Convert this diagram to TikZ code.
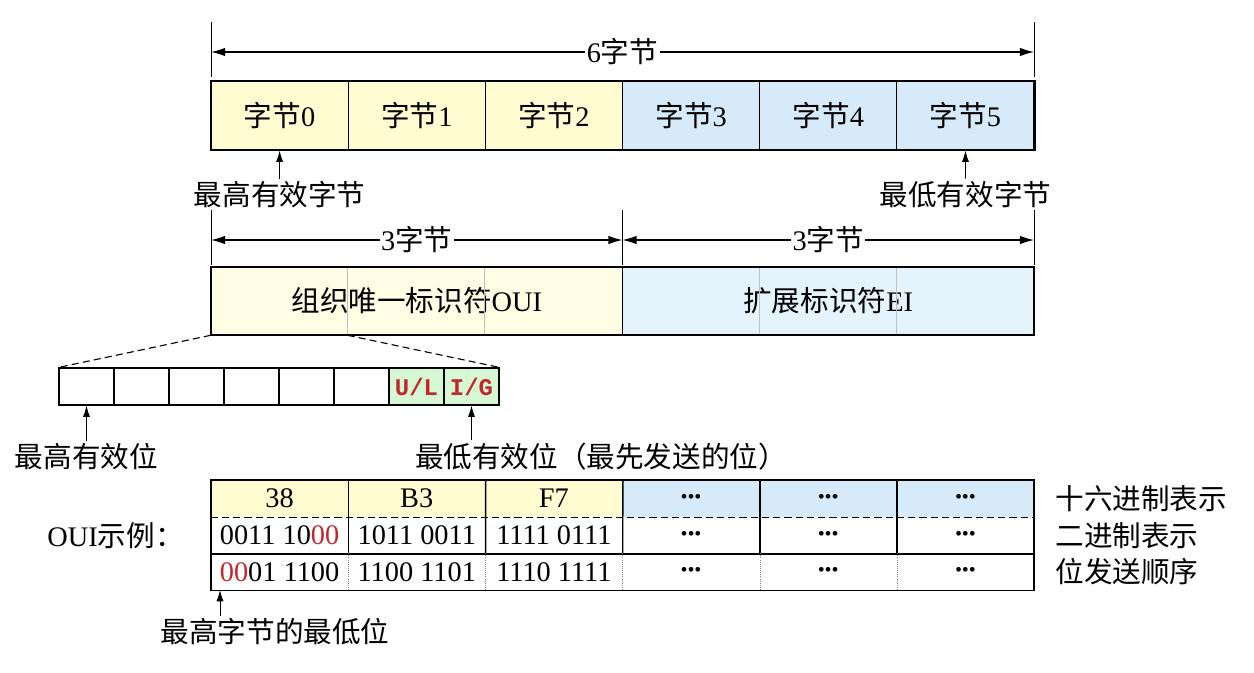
\documentclass[tikz,border=0pt]{standalone}
\usepackage{fontspec}
\setmainfont{Liberation Serif}[Scale=1.12]
\setmonofont{Liberation Mono}
\newfontfamily\zhfont{Noto Sans CJK SC}[Scale=1.13]
\usetikzlibrary{positioning,arrows.meta}
\newcommand{\zh}[1]{{\zhfont #1}}
\newcommand{\pxu}{0.025cm}
\definecolor{bytey}{HTML}{FFFCD2}
\definecolor{byteb}{HTML}{D6EAFA}
\definecolor{ouiy}{HTML}{FFFDE3}
\definecolor{eib}{HTML}{E5F3FD}
\definecolor{bitg}{HTML}{D5F8D2}
\definecolor{bitred}{HTML}{C1272D}
\newcommand{\dotz}{{\fontsize{11}{11}\selectfont\textbf{\textbullet\kern0.6pt\textbullet\kern0.6pt\textbullet}}}

\begin{document}
\begin{tikzpicture}[x=\pxu, y=-\pxu,
    every node/.style={font=\fontsize{18}{22}\selectfont, inner sep=2pt},
    bytecell/.style={draw, line width=0.8pt, inner sep=0pt, minimum width={137.17*\pxu}, minimum height={69*\pxu}},
    halfcell/.style={inner sep=0pt, minimum width={411.5*\pxu}, minimum height={68*\pxu}},
    bitcell/.style={draw, line width=0.8pt, inner sep=0pt, minimum width={55*\pxu}, minimum height={37*\pxu}},
    tabcell/.style={inner sep=0pt, minimum width={137.17*\pxu}, minimum height={36.7*\pxu}},
    dim/.style={{Latex[length=10pt,width=6pt]}-{Latex[length=10pt,width=6pt]}, line width=0.8pt},
    up/.style={-{Latex[length=8pt,width=5pt]}, line width=0.6pt},
    zoomline/.style={dash pattern=on 5pt off 3pt, line width=0.8pt},
    flag/.style={text=bitred, font=\fontsize{17}{20}\selectfont\ttfamily\bfseries}]
  \useasboundingbox (0,0) rectangle (1254,672);

  % 6 bytes
  \foreach \i/\c in {0/bytey,1/bytey,2/bytey,3/byteb,4/byteb,5/byteb}
    \node[bytecell, fill=\c] (b\i) at ({279.6+137.17*\i},115.5) {\zh{字节}\i};
  \draw[line width=1.3pt] (b0.north west) rectangle (b5.south east);

  \draw[thin] (211,22) -- (211,77);
  \draw[thin] (1034,22) -- (1034,77);
  \coordinate (six0) at (211,52);
  \coordinate (six1) at (1034,52);
  \draw[dim] (six0) -- node[fill=white, inner sep=1pt] (sixlbl) {6\zh{字节}} (six1);

  \node (msbyte) at (279.6,195) {\zh{最高有效字节}};
  \node (lsbyte) at (965.5,195) {\zh{最低有效字节}};
  \draw[up] (msbyte) -- (b0);
  \draw[up] (lsbyte) -- (b5);

  % 3 + 3 bytes
  \foreach \x in {211,622.5,1034}
    \draw[thin] (\x,210) -- (\x,265);
  \coordinate (three0) at (211,240);
  \coordinate (three1) at (622.5,240);
  \coordinate (three2) at (1034,240);
  \draw[dim] (three0) -- node[fill=white, inner sep=1pt] (ouidim) {3\zh{字节}} (three1);
  \draw[dim] (three1) -- node[fill=white, inner sep=1pt] (eidim) {3\zh{字节}} (three2);

  \node[halfcell, fill=ouiy] (oui) at (416.75,301) {\zh{组织唯一标识符}OUI};
  \node[halfcell, fill=eib] (ei) at (828.25,301) {\zh{扩展标识符}EI};
  \foreach \i in {1,2,4,5}
    \draw[black!25, line width=0.8pt] (b\i.west |- oui.north) -- (b\i.west |- oui.south);
  \draw[line width=1.3pt] (oui.north west) rectangle (ei.south east);
  \draw[line width=0.8pt] (oui.north east) -- (oui.south east);

  % bits of byte 0
  \foreach \i in {0,...,7}
    \node[bitcell] (bit\i) at ({86.5+55*\i},386.5) {};
  \node[bitcell, fill=bitg, flag] (bit6) at (bit6) {U/L};
  \node[bitcell, fill=bitg, flag] (bit7) at (bit7) {I/G};
  \coordinate (oui1) at (b1.west |- oui.south);
  \draw[zoomline] (oui.south west) -- (bit0.north west);
  \draw[zoomline] (oui1) -- (bit7.north east);

  \node (msbit) at (86.5,457) {\zh{最高有效位}};
  \node[anchor=west] (lsbit) at (412,457) {\zh{最低有效位（最先发送的位）}};
  \draw[up] (msbit) -- (bit0);
  \draw[up] (bit7.south |- lsbit.north) -- (bit7.south);

  % OUI example table
  \foreach \i/\h in {0/38,1/B3,2/F7} {
    \node[tabcell, fill=bytey] (h\i) at ({279.6+137.17*\i},498.5) {\h};
  }
  \foreach \i in {3,4,5}
    \node[tabcell, fill=byteb] (h\i) at ({279.6+137.17*\i},498.5) {\dotz};
  \node[tabcell] (n0) at (279.6,535.2) {0011 10\textcolor{bitred}{00}};
  \node[tabcell] (n1) at (416.8,535.2) {1011 0011};
  \node[tabcell] (n2) at (553.9,535.2) {1111 0111};
  \node[tabcell] (o0) at (279.6,571.9) {\textcolor{bitred}{00}01 1100};
  \node[tabcell] (o1) at (416.8,571.9) {1100 1101};
  \node[tabcell] (o2) at (553.9,571.9) {1110 1111};
  \foreach \i in {3,4,5} {
    \node[tabcell] (n\i) at ({279.6+137.17*\i},535.2) {\dotz};
    \node[tabcell] (o\i) at ({279.6+137.17*\i},571.9) {\dotz};
  }
  \draw[zoomline] (h0.south west) -- (h5.south east);
  \draw[line width=1pt] (n0.south west) -- (n5.south east);
  \foreach \i in {0,...,4} {
    \draw[line width=1pt] (h\i.north east) -- (n\i.south east);
    \draw[densely dotted, black!50, line width=0.5pt] (o\i.north east) -- (o\i.south east);
  }
  \draw[line width=1.3pt] (h0.north west) rectangle (o5.south east);

  \node[right=0.45cm of h5] (hexlbl) {\zh{十六进制表示}};
  \node[right=0.45cm of n5] (binlbl) {\zh{二进制表示}};
  \node[right=0.45cm of o5] (ordlbl) {\zh{位发送顺序}};
  \node[left=0.6cm of n0] (exlbl) {OUI\zh{示例：}};

  \node (lowlbl) at (275,632) {\zh{最高字节的最低位}};
  \coordinate (lowbit) at (220,590);
  \draw[up] (lowbit |- lowlbl.north) -- (lowbit);
\end{tikzpicture}
\end{document}
